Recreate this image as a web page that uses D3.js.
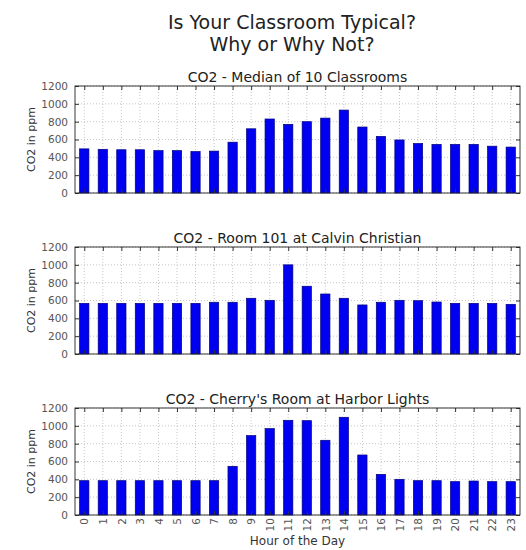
<!DOCTYPE html>
<html>
<head>
<meta charset="utf-8">
<script src="https://cdn.jsdelivr.net/npm/d3@7"></script>
<style>
  html, body { margin: 0; padding: 0; background: #fff; }
  svg { display: block; font-family: "DejaVu Sans", sans-serif; }
</style>
</head>
<body>
<svg id="chart" width="526" height="550"></svg>
<script>
const hours = ["0","1","2","3","4","5","6","7","8","9","10","11","12","13","14","15","16","17","18","19","20","21","22","23"];
const yTicks = [0, 200, 400, 600, 800, 1000, 1200];
const titleLines = ["Is Your Classroom Typical?", "Why or Why Not?"];
const panelTitles = ["CO2 - Median of 10 Classrooms", "CO2 - Room 101 at Calvin Christian", "CO2 - Cherry's Room at Harbor Lights"];
const medianValues = [495, 490, 485, 485, 475, 475, 465, 470, 570, 720, 830, 770, 800, 840, 930, 740, 635, 595, 555, 545, 545, 545, 525, 515];
const room101Values = [568, 568, 568, 568, 568, 568, 568, 580, 580, 625, 602, 1000, 760, 673, 625, 550, 580, 602, 598, 583, 568, 568, 568, 557];
const cherryValues = [385, 385, 385, 385, 385, 385, 385, 385, 546, 890, 969, 1062, 1058, 838, 1096, 673, 456, 400, 385, 385, 374, 381, 374, 374];
const seriesList = [medianValues, room101Values, cherryValues];
const yLabel = "CO2 in ppm";
const xLabel = "Hour of the Day";

const svg = d3.select("#chart");
const left = 75, right = 520, ph = 107;
const tops = [86, 247, 408];

svg.selectAll("text.title").data(titleLines).enter().append("text")
  .attr("class", "title")
  .attr("x", 292).attr("y", (d, i) => 29 + i * 21.5)
  .attr("text-anchor", "middle")
  .attr("font-size", 19).attr("fill", "#222")
  .text(d => d);

const x = d3.scaleBand().domain(hours).range([left, right]).paddingInner(0.5).paddingOuter(0.25);

seriesList.forEach((vals, pi) => {
  const top = tops[pi];
  const y = d3.scaleLinear().domain([0, 1200]).range([top + ph, top]);
  const g = svg.append("g");

  // grid
  g.append("g").selectAll("line").data(yTicks).enter().append("line")
    .attr("x1", left).attr("x2", right)
    .attr("y1", d => y(d)).attr("y2", d => y(d))
    .attr("stroke", "#a0a0a0").attr("stroke-width", 0.6).attr("stroke-dasharray", "1,2");
  g.append("g").selectAll("line").data(hours).enter().append("line")
    .attr("x1", d => x(d) + x.bandwidth() / 2).attr("x2", d => x(d) + x.bandwidth() / 2)
    .attr("y1", top).attr("y2", top + ph)
    .attr("stroke", "#a0a0a0").attr("stroke-width", 0.6).attr("stroke-dasharray", "1,2");

  // bars
  g.append("g").selectAll("rect").data(vals).enter().append("rect")
    .attr("x", (d, i) => x(hours[i]))
    .attr("width", x.bandwidth())
    .attr("y", d => y(d))
    .attr("height", d => y(0) - y(d))
    .attr("fill", "#0000f0").attr("stroke", "#000080").attr("stroke-width", 0.7);

  // axes (inward ticks, classic style)
  const yAxisL = d3.axisLeft(y).tickValues(yTicks).tickFormat(d3.format("d")).tickSizeInner(-4).tickSizeOuter(0).tickPadding(7);
  const gl = g.append("g").attr("transform", `translate(${left},0)`).call(yAxisL);
  gl.select(".domain").remove();
  gl.selectAll("line").attr("stroke", "#333");
  gl.selectAll("text").attr("font-size", 10.5).attr("fill", "#555").attr("font-family", "DejaVu Sans, sans-serif");

  const yAxisR = d3.axisRight(y).tickValues(yTicks).tickSizeInner(-4).tickSizeOuter(0).tickFormat("");
  const gr = g.append("g").attr("transform", `translate(${right},0)`).call(yAxisR);
  gr.select(".domain").remove();
  gr.selectAll("line").attr("stroke", "#333");

  const xCenter = d3.scalePoint().domain(hours).range([x(hours[0]) + x.bandwidth() / 2, x(hours[23]) + x.bandwidth() / 2]);
  const xAxisT = d3.axisTop(xCenter).tickSizeInner(-4).tickSizeOuter(0).tickFormat("");
  const gt = g.append("g").attr("transform", `translate(0,${top})`).call(xAxisT);
  gt.select(".domain").remove();
  gt.selectAll("line").attr("stroke", "#333");

  const xAxisB = d3.axisBottom(xCenter).tickSizeInner(-4).tickSizeOuter(0);
  const gb = g.append("g").attr("transform", `translate(0,${top + ph})`).call(xAxisB);
  gb.select(".domain").remove();
  gb.selectAll("line").attr("stroke", "#333");
  if (pi === 2) {
    gb.selectAll("text")
      .attr("font-size", 10.5).attr("fill", "#555").attr("font-family", "DejaVu Sans, sans-serif")
      .attr("text-anchor", "end")
      .attr("dy", "0.35em")
      .attr("transform", "translate(0,3) rotate(-90)")
      .attr("x", 0).attr("y", 0);
  } else {
    gb.selectAll("text").remove();
  }

  // frame
  g.append("rect").attr("x", left).attr("y", top).attr("width", right - left).attr("height", ph)
    .attr("fill", "none").attr("stroke", "#222").attr("stroke-width", 0.9);

  // panel title
  g.append("text").attr("x", (left + right) / 2).attr("y", top - 4.5)
    .attr("text-anchor", "middle").attr("font-size", 14).attr("fill", "#222")
    .text(panelTitles[pi]);

  // y label
  g.append("text")
    .attr("transform", `translate(35,${top + ph / 2}) rotate(-90)`)
    .attr("text-anchor", "middle").attr("font-size", 11).attr("fill", "#333")
    .text(yLabel);
});

svg.append("text").attr("x", (left + right) / 2).attr("y", 545)
  .attr("text-anchor", "middle").attr("font-size", 12).attr("fill", "#333")
  .text(xLabel);
</script>
</body>
</html>
